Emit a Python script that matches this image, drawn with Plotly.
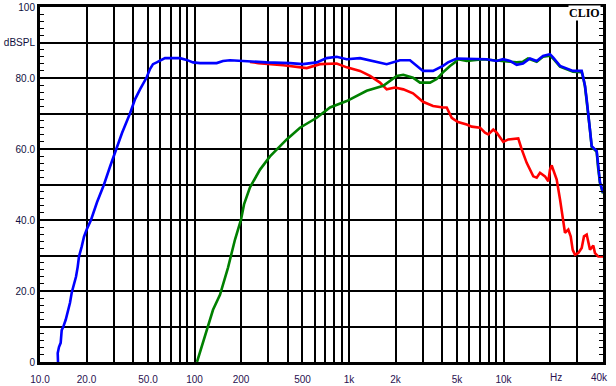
import math
import plotly.graph_objects as go

# ---- data (frequency in Hz, level in dB SPL) ----
blue_f = [13.08, 13.02, 13.27, 13.61, 13.82, 14.15, 14.67, 15.11, 15.64, 16.04, 16.43, 17.1, 17.54,
          17.88, 18.62, 19.27, 20.06, 21.38, 23.39, 25.96, 28.38, 31.05, 33.95, 38.23, 41.2, 44.4,
          49.05, 51.52, 53.87, 56.93, 64.42, 80.55, 89.01, 97.8, 108.5, 139.2, 152.9, 169.8, 217.8,
          293.4, 415.1, 503.9, 618, 717.4, 832.6, 966.4, 1178, 1430, 1754, 2138, 2482, 3013, 3498,
          4058, 4373, 4980, 5779, 7785, 9037, 9926, 11020, 12170, 13370, 14840, 16400, 18020, 20000,
          20920, 23220, 28180, 32080, 32710, 33690, 34550, 35240, 36300, 37230, 40110, 40900, 42130,
          44060]
blue_db = [0.0, 2.5, 4.2, 5.4, 9.0, 9.9, 11.9, 13.8, 16.7, 19.5, 21.2, 24.0, 26.8,
           29.7, 32.5, 35.3, 37.3, 40.0, 45.0, 50.0, 55.0, 60.0, 64.5, 70.0, 74.0, 76.8,
           80.2, 82.5, 83.9, 84.4, 85.6, 85.6, 85.1, 84.4, 84.2, 84.2, 84.8, 85.0, 84.7,
           84.4, 84.2, 83.9, 84.4, 85.6, 86.0, 85.3, 85.6, 84.8, 83.9, 85.0, 85.0, 82.0, 82.0,
           83.4, 84.4, 85.5, 85.5, 85.3, 84.8, 85.3, 84.8, 83.7, 84.1, 85.5, 84.8, 86.2, 86.7,
           85.8, 83.4, 82.0, 82.0, 80.6, 77.8, 74.0, 70.3, 65.5, 60.8, 59.4, 55.2, 50.6,
           47.7]

green_f = [103.8, 120, 131.8, 146.2, 164.8, 182.9, 200, 209.2, 228.7, 265.5, 308.1, 395.3, 481.8,
           618, 753.4, 966.4, 1302, 1667, 2036, 2246, 2596, 2881, 3345, 3695, 4058, 4506, 4855,
           5077, 5779, 7369, 9491, 10490, 12170, 13370, 14410, 16400, 18020, 20000, 20920, 23220,
           28180, 32080, 32710, 33690, 34550, 35240, 36300, 37230, 40110, 40900, 42130, 44060]
green_db = [0.0, 9.0, 14.7, 18.9, 26.6, 34.5, 40.1, 44.4, 49.2, 54.2, 57.9, 62.7, 66.0,
            68.8, 71.7, 73.5, 76.4, 77.8, 80.6, 80.9, 80.1, 78.7, 78.7, 79.7, 81.6, 83.4, 84.4,
            85.3, 84.8, 85.3, 84.8, 84.8, 84.4, 84.6, 85.5, 84.6, 86.0, 86.3, 85.5, 83.2,
            81.8, 81.6, 80.4, 77.6, 73.8, 70.1, 65.3, 60.6, 59.2, 55.0, 50.4, 47.5]

red_f = [228.7, 258.8, 375.7, 481.8, 532.5, 649.2, 832.6, 966.4, 1178, 1368, 1587, 1754, 1985,
         2246, 2596, 3013, 3498, 4058, 4290, 4621, 5077, 5779, 6226, 7045, 7593, 7974, 8590,
         9037, 9970, 10740, 12460, 13120, 14130, 15590, 16400, 17230, 18560, 19500, 20000, 20510,
         21540, 22100, 23220, 24170, 25000, 26270, 27220, 28050, 29030, 30500, 32080, 33190,
         34550, 36300, 38130, 39090, 41080, 44060]
red_db = [84.5, 84.2, 83.6, 83.0, 82.8, 83.9, 84.1, 83.0, 82.0, 80.6, 78.7, 76.8, 77.3,
          76.8, 75.7, 73.3, 72.1, 71.7, 71.7, 68.8, 67.6, 66.9, 66.3, 66.0, 64.6, 64.1, 65.5,
          64.6, 62.0, 62.7, 63.0, 59.9, 56.1, 52.3, 51.9, 53.3, 52.3, 50.9, 54.2, 55.4,
          52.3, 51.4, 45.8, 40.1, 36.4, 37.3, 35.4, 31.6, 30.2, 30.7, 32.1, 35.4,
          35.9, 31.6, 32.8, 30.7, 29.7, 29.7]

x_grid = [10, 20, 30, 40, 50, 60, 70, 80, 90, 100, 200, 300, 400, 500, 600, 700, 800, 900,
          1000, 2000, 3000, 4000, 5000, 6000, 7000, 8000, 9000, 10000, 20000, 30000]
x_labels = ["10.0", "20.0", "", "", "50.0", "", "", "", "", "100", "200", "", "", "500", "", "", "", "",
            "1k", "2k", "", "", "5k", "", "", "", "", "10k", "", ""]
extra_x_labels = ["Hz", "40k"]
extra_x_values = [20000, 40000]
extra_x_shifts = [6, 3]
y_grid = [0, 10, 20, 30, 40, 50, 60, 70, 80, 90, 100]
y_labels = ["0", "", "20.0", "", "40.0", "", "60.0", "", "80.0", "dBSPL", "100"]
x_max = 44060

x_font = dict(family="Liberation Sans, Arial", color="#2a1050", size=10)

fig = go.Figure()
fig.add_trace(go.Scatter(x=red_f, y=red_db, mode="lines", line=dict(color="#ff0000", width=2.6)))
fig.add_trace(go.Scatter(x=green_f, y=green_db, mode="lines", line=dict(color="#008000", width=2.6)))
fig.add_trace(go.Scatter(x=blue_f, y=blue_db, mode="lines", line=dict(color="#0000ff", width=2.6)))

fig.add_annotation(text="<b>CLIO</b>", xref="paper", yref="paper", x=1.0, y=0.983, xshift=-2,
                   xanchor="right", yanchor="middle", showarrow=False, bgcolor="white", borderpad=0,
                   font=dict(family="Liberation Serif", size=12, color="#000000"))
for lab, val, sh in zip(extra_x_labels, extra_x_values, extra_x_shifts):
    fig.add_annotation(text=lab, xref="x", yref="paper", x=math.log10(val), y=0,
                       yshift=-15, xshift=sh, xanchor="center", yanchor="middle",
                       showarrow=False, font=x_font)

fig.update_layout(
    width=616, height=386,
    margin=dict(l=40, r=13, t=7, b=24),
    paper_bgcolor="white", plot_bgcolor="white",
    showlegend=False,
    font=dict(family="Liberation Sans, Arial", size=10),
    xaxis=dict(type="log", range=[1, math.log10(x_max)], tickmode="array", automargin=False,
               tickvals=x_grid, ticktext=x_labels, showgrid=True, gridcolor="#000000",
               gridwidth=1.6, showline=True, linecolor="#000000", linewidth=3, mirror=True,
               ticks="", zeroline=False, ticklabelstandoff=6, tickfont=x_font),
    yaxis=dict(range=[0, 100], tickmode="array", tickvals=y_grid, ticktext=y_labels,
               automargin=False,
               showgrid=True, gridcolor="#000000", gridwidth=1.6, showline=True,
               linecolor="#000000", linewidth=3, mirror="allticks", ticks="inside", ticklen=4,
               tickcolor="#000000", tickwidth=1.2, zeroline=False,
               ticklabelstandoff=0,
               minor=dict(tickmode="linear", tick0=0, dtick=2, ticks="inside", ticklen=4,
                          tickcolor="#000000", tickwidth=1.2, showgrid=False),
               tickfont=dict(family="Liberation Sans, Arial", color="#101040", size=10)),
)

fig.write_html("out.html")
